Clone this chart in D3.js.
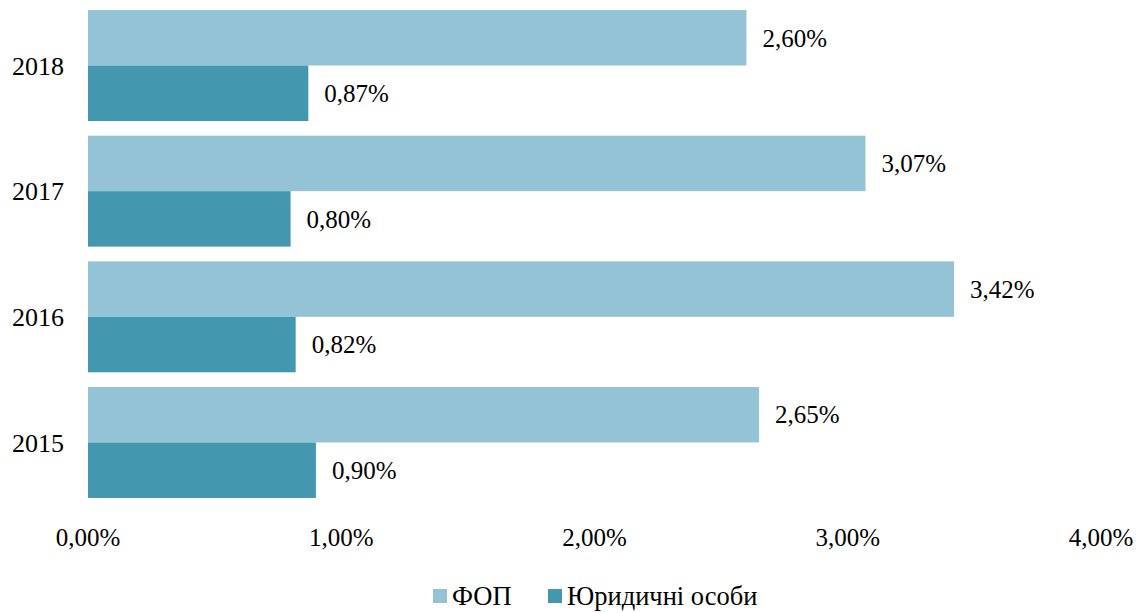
<!DOCTYPE html>
<html><head><meta charset="utf-8">
<script src="https://cdn.jsdelivr.net/npm/d3@7"></script>
<style>body{margin:0;background:#fff}svg{display:block}text{font-family:"Liberation Serif","Times New Roman",serif;fill:#000}</style>
</head><body><svg id="c" width="1144" height="613"></svg>
<script>
const years = ["2018","2017","2016","2015"];
const fop = [2.60, 3.07, 3.42, 2.65];
const legal = [0.87, 0.80, 0.82, 0.90];
const xTicks = [0,1,2,3,4];
const seriesNames = ["ФОП","Юридичні особи"];
const colors = ["#93c3d5","#4398b0"];

const svg = d3.select("#c");
const x = d3.scaleLinear().domain([0,4]).range([88,1101]);
const y = d3.scaleBand().domain(years).range([2.7,505.3]).paddingInner(0.117).paddingOuter(0.0585);
const fmt = v => v.toFixed(2).replace(".",",")+"%";
const series = [fop, legal];
const half = y.bandwidth()/2;
const fs = 25;

series.forEach((vals,si)=>{
  const g = svg.append("g");
  g.selectAll("rect").data(years).join("rect")
    .attr("x",x(0)).attr("y",d=>y(d)+si*half)
    .attr("width",(d,i)=>x(vals[i])-x(0)).attr("height",half)
    .attr("fill",colors[si]);
  g.selectAll("text").data(years).join("text")
    .attr("x",(d,i)=>x(vals[i])+16).attr("y",d=>y(d)+si*half+half/2)
    .attr("dy","0.35em").attr("font-size",fs)
    .text((d,i)=>fmt(vals[i]));
});

// y axis labels
svg.append("g").selectAll("text").data(years).join("text")
  .attr("x",64).attr("y",d=>y(d)+y.bandwidth()/2).attr("dy","0.35em")
  .attr("text-anchor","end").attr("font-size",26).text(d=>d);

// x axis labels
svg.append("g").selectAll("text").data(xTicks).join("text")
  .attr("x",d=>x(d)).attr("y",546).attr("text-anchor","middle")
  .attr("font-size",fs).text(d=>fmt(d));

// legend
const leg = [{x:433,tx:452},{x:548,tx:567}];
seriesNames.forEach((n,i)=>{
  svg.append("rect").attr("x",leg[i].x).attr("y",589).attr("width",14).attr("height",14).attr("fill",colors[i]);
  svg.append("text").attr("x",leg[i].tx).attr("y",596).attr("dy","0.35em").attr("font-size",26.5).text(n);
});
</script></body></html>
